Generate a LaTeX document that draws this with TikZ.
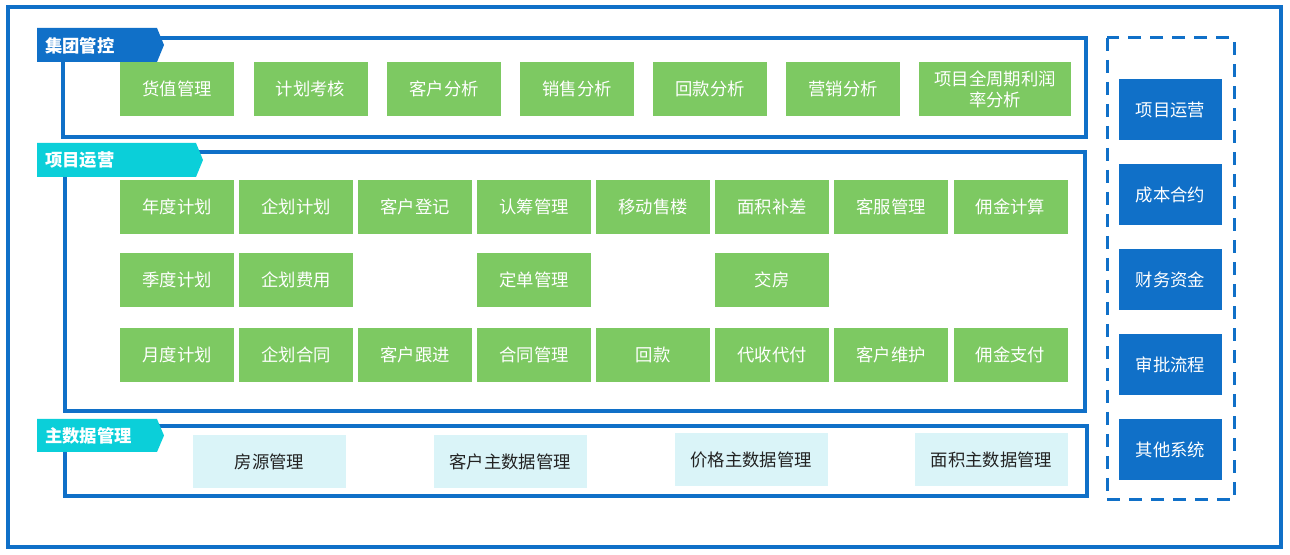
\documentclass[tikz,border=0pt]{standalone}
\usepackage{fontspec}
\setmainfont{Noto Sans CJK SC}
\definecolor{dblue}{HTML}{1070C8}
\definecolor{cyanT}{HTML}{0BCFD9}
\definecolor{gfill}{HTML}{7DC962}
\definecolor{lbfill}{HTML}{DAF4F8}
\definecolor{dtext}{HTML}{222222}
\tikzset{
  frameline/.style={draw=dblue, line width=3pt},
  gbox/.style={fill=gfill, text=white, minimum width=85.5pt, minimum height=40.5pt, inner sep=0pt, align=center, font=\fontsize{13}{15.75}\selectfont},
  wbox/.style={gbox, minimum width=114pt},
  mbox/.style={fill=lbfill, text=dtext, minimum width=114.75pt, minimum height=39.75pt, inner sep=0pt, font=\fontsize{13}{15.75}\selectfont},
  bbox/.style={fill=dblue, text=white, minimum width=77.25pt, minimum height=45.75pt, inner sep=0pt, font=\fontsize{13}{15.75}\selectfont},
  tabtext/.style={text=white, anchor=west, inner sep=0pt, font=\fontsize{13}{15}\selectfont\bfseries},
}
\begin{document}
\begin{tikzpicture}[x=0.75pt, y=-0.75pt]
\useasboundingbox (0,0) rectangle (1290,555);
% outer frame
\draw[frameline] (8,7) rectangle (1281,547);
% group boxes
\draw[frameline] (63,38) rectangle (1086,137);
\draw[frameline] (65,152) rectangle (1085,411);
\draw[frameline] (65,426) rectangle (1087,496);
% dashed box
\draw[draw=dblue, line width=2.25pt, dash pattern=on 9.75pt off 6.75pt] (1107,38) rectangle (1234,500);
% tabs
\fill[dblue] (37,28) -- (157,28) -- (164,45) -- (157,62) -- (37,62) -- cycle;
\node[tabtext] (t1) at (45,45.5) {集团管控};
\fill[cyanT] (37,143) -- (196,143) -- (203,160) -- (196,177) -- (37,177) -- cycle;
\node[tabtext] (t2) at (45,160.5) {项目运营};
\fill[cyanT] (37,419) -- (157,419) -- (164,435.5) -- (157,452) -- (37,452) -- cycle;
\node[tabtext] (t3) at (45,436) {主数据管理};
% group control row
\node[gbox] (a1) at (177,89) {货值管理};
\node[gbox] (a2) at (310.5,89) {计划考核};
\node[gbox] (a3) at (444,89) {客户分析};
\node[gbox] (a4) at (577,89) {销售分析};
\node[gbox] (a5) at (710,89) {回款分析};
\node[gbox] (a6) at (843,89) {营销分析};
\node[wbox] (a7) at (995,89) {项目全周期利润\\率分析};
% project operations
\node[gbox] (b1) at (177,207) {年度计划};
\node[gbox] (b2) at (296,207) {企划计划};
\node[gbox] (b3) at (415,207) {客户登记};
\node[gbox] (b4) at (534,207) {认筹管理};
\node[gbox] (b5) at (653,207) {移动售楼};
\node[gbox] (b6) at (772,207) {面积补差};
\node[gbox] (b7) at (891,207) {客服管理};
\node[gbox] (b8) at (1010.5,207) {佣金计算};
\node[gbox] (c1) at (177,280) {季度计划};
\node[gbox] (c2) at (296,280) {企划费用};
\node[gbox] (c4) at (534,280) {定单管理};
\node[gbox] (c6) at (772,280) {交房};
\node[gbox] (d1) at (177,355) {月度计划};
\node[gbox] (d2) at (296,355) {企划合同};
\node[gbox] (d3) at (415,355) {客户跟进};
\node[gbox] (d4) at (534,355) {合同管理};
\node[gbox] (d5) at (653,355) {回款};
\node[gbox] (d6) at (772,355) {代收代付};
\node[gbox] (d7) at (891,355) {客户维护};
\node[gbox] (d8) at (1010.5,355) {佣金支付};
% master data
\node[mbox] (m1) at (269.5,461.5) {房源管理};
\node[mbox] (m2) at (510,462) {客户主数据管理};
\node[mbox] (m3) at (751,460) {价格主数据管理};
\node[mbox] (m4) at (991.5,460) {面积主数据管理};
% right column
\node[bbox] (r1) at (1170.5,109.5) {项目运营};
\node[bbox] (r2) at (1170.5,194.5) {成本合约};
\node[bbox] (r3) at (1170.5,279.5) {财务资金};
\node[bbox] (r4) at (1170.5,364.5) {审批流程};
\node[bbox] (r5) at (1170.5,449.5) {其他系统};
\end{tikzpicture}
\end{document}
